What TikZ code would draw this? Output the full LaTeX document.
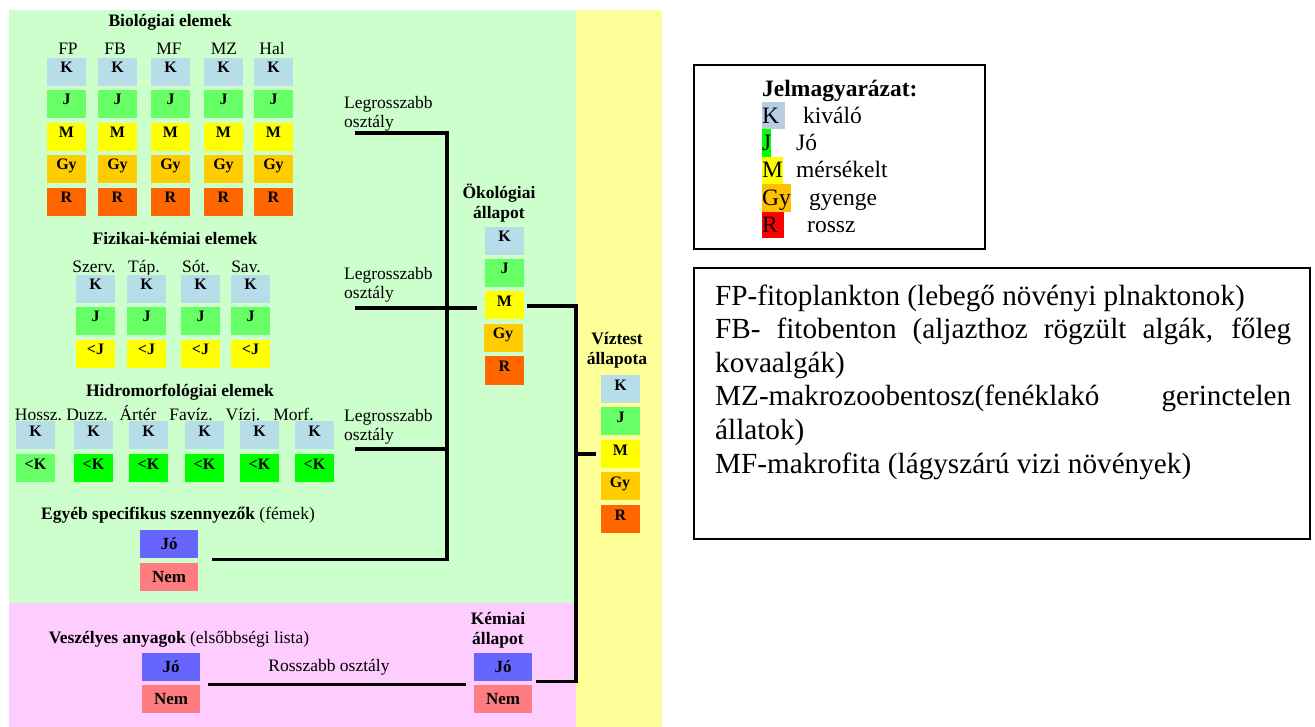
\documentclass[tikz,border=0pt]{standalone}
\usepackage{fontspec}
\setmainfont{Liberation Serif}
\usetikzlibrary{calc}
\definecolor{bgG}{HTML}{CCFFCC}
\definecolor{bgP}{HTML}{FFCCFF}
\definecolor{bgY}{HTML}{FFFF99}
\definecolor{cK}{HTML}{B7DEE8}
\definecolor{cJ}{HTML}{66FF66}
\definecolor{cJJ}{HTML}{00FF00}
\definecolor{cM}{HTML}{FFFF00}
\definecolor{cGy}{HTML}{FFCC00}
\definecolor{cR}{HTML}{FF6600}
\definecolor{cJo}{HTML}{6666FF}
\definecolor{cNem}{HTML}{FF7C80}
\definecolor{lK}{HTML}{B8CCE4}
\definecolor{lJ}{HTML}{00FF00}
\definecolor{lM}{HTML}{FFFF00}
\definecolor{lGy}{HTML}{FFC000}
\definecolor{lR}{HTML}{FF0000}
\tikzset{
 cell/.style={rectangle, inner sep=0pt, minimum width=39pt, minimum height=28pt, text height=6pt, text depth=4pt, font=\bfseries\fontsize{16}{18}\selectfont},
 yn/.style={rectangle, inner sep=0pt, minimum width=58pt, minimum height=28pt, font=\bfseries\fontsize{17}{19}\selectfont},
 lab/.style={inner sep=0pt, text height=12pt, text depth=0pt, font=\fontsize{17.5}{19.5}\selectfont},
 mlab/.style={inner sep=0pt, font=\fontsize{17.5}{19.5}\selectfont, align=left, anchor=west},
 ttl/.style={inner sep=0pt, font=\bfseries\fontsize{17.5}{20}\selectfont, align=center},
 conn/.style={line width=3.2pt},
 leg/.style={inner sep=0pt, anchor=base west, font=\fontsize{23.5}{27}\selectfont},
 abbr/.style={inner sep=0pt, anchor=base west, font=\fontsize{29.2}{33.5}\selectfont},
 frame/.style={draw, line width=1.6pt, inner sep=0pt, anchor=north west},
}
\begin{document}
\begin{tikzpicture}[x=1pt,y=-1pt]
\useasboundingbox (0,0) rectangle (1315,727);
\fill[white] (0,0) rectangle (1315,727);
\fill[bgG] (9,10) rectangle (576,603);
\fill[bgP] (9,603) rectangle (576,727);
\fill[bgY] (576,10) rectangle (662,727);

% Biological elements
\node[ttl] (bioT) at (170,22) {Biológiai elemek};
\foreach \nm/\x/\lx [count=\i] in {FP/66.5/68, FB/117.5/115, MF/170.5/169, MZ/223.5/224, Hal/273.5/272}{
 \node[lab] (bl\i) at (\lx,49) {\nm};
 \node[cell,fill=cK] (bK\i) at (\x,72) {K};
 \node[cell,fill=cJ] (bJ\i) at (\x,104) {J};
 \node[cell,fill=cM] (bM\i) at (\x,137) {M};
 \node[cell,fill=cGy] (bG\i) at (\x,169) {Gy};
 \node[cell,fill=cR] (bR\i) at (\x,202) {R};
}

% Physico-chemical
\node[ttl] (fkT) at (175,239) {Fizikai-kémiai elemek};
\foreach \nm/\x/\lx [count=\i] in {Szerv./95.5/94, Táp./146.5/144, Sót./200.5/196, Sav./250.5/246}{
 \node[lab] (fl\i) at (\lx,267) {\nm};
 \node[cell,fill=cK] (fK\i) at (\x,289) {K};
 \node[cell,fill=cJ] (fJ\i) at (\x,321) {J};
 \node[cell,fill=cM] (fM\i) at (\x,354) {<J};
}

% Hydromorphological
\node[ttl] (hmT) at (180,392) {Hidromorfológiai elemek};
\foreach \nm/\x/\lx/\c [count=\i] in {Hossz./35.5/38.5/cJ, Duzz./93.5/87/cJJ, Ártér/148.5/138/cJJ, Favíz./204.5/191/cJJ, Vízj./259.5/243/cJJ, Morf./314.5/293.5/cJJ}{
 \node[lab] (hl\i) at (\lx,414) {\nm};
 \node[cell,fill=cK] (hK\i) at (\x,435) {K};
 \node[cell,fill=\c] (hJ\i) at (\x,468) {<K};
}

% Other specific pollutants
\node[lab] (egyT) at (178,513) {\textbf{Egyéb specifikus szennyezők} (fémek)};
\node[yn,fill=cJo] (egyJo) at (169,544) {Jó};
\node[yn,fill=cNem] (egyNem) at (169,577) {Nem};

% Dangerous substances
\node[lab] (vesT) at (179,637) {\textbf{Veszélyes anyagok} (elsőbbségi lista)};
\node[yn,fill=cJo] (vesJo) at (171,667) {Jó};
\node[yn,fill=cNem] (vesNem) at (171,699) {Nem};
\node[lab] (ros) at (329,665) {Rosszabb osztály};

% Chemical status
\node[ttl] (kemT) at (498,630) {Kémiai\\állapot};
\node[yn,fill=cJo] (kemJo) at (503,667) {Jó};
\node[yn,fill=cNem] (kemNem) at (503,699) {Nem};

% Ecological status
\node[ttl] (ecoT) at (499,203) {Ökológiai\\állapot};
\node[cell,fill=cK] (eK) at (504.5,241) {K};
\node[cell,fill=cJ] (eJ) at (504.5,273) {J};
\node[cell,fill=cM] (eM) at (504.5,305.5) {M};
\node[cell,fill=cGy] (eG) at (503,338) {Gy};
\node[cell,fill=cR] (eR) at (504.5,370.5) {R};

% Water body status
\node[ttl] (vizT) at (617,350) {Víztest\\állapota};
\node[cell,fill=cK] (vK) at (620.5,389) {K};
\node[cell,fill=cJ] (vJ) at (620.5,421) {J};
\node[cell,fill=cM] (vM) at (620.5,454) {M};
\node[cell,fill=cGy] (vG) at (620,486) {Gy};
\node[cell,fill=cR] (vR) at (620.5,519) {R};

% "Legrosszabb osztaly" labels
\node[mlab] (lg1) at (344,114) {Legrosszabb\\osztály};
\node[mlab] (lg2) at (344,285) {Legrosszabb\\osztály};
\node[mlab] (lg3) at (344,427) {Legrosszabb\\osztály};

% connector coordinates
\coordinate (l1s) at (355,133);
\coordinate (l1c) at (447,133);
\coordinate (l2s) at (355,308);
\coordinate (l3s) at (355,449);
\coordinate (l3c) at (447,449);
\coordinate (egyE) at ($(egyJo.south east)+(14,1)$);
\coordinate (ecoIn) at ($(eM.west)+(-8,2.5)$);
\coordinate (ecoOut) at ($(eM.east)+(3,0.5)$);
\coordinate (rc) at (576,306);
\coordinate (rs) at (576,454);
\coordinate (vizIn) at ($(vM.west)+(-5,0)$);
\coordinate (kemOut) at ($(kemJo.south east)+(4,0)$);
\coordinate (vesE) at ($(vesJo.south east)+(8,3)$);
\coordinate (kemIn) at ($(kemJo.south west)+(-8,3)$);

\draw[conn] (l1s) -- (l1c) |- (egyE);
\draw[conn] (l2s) -- (ecoIn);
\draw[conn] (l3s) -- (l3c);
\draw[conn] (ecoOut) -- (rc) |- (kemOut);
\draw[conn] (rs) -- (vizIn);
\draw[conn] (vesE) -- (kemIn);

% Legend
\node[frame, minimum width=291pt, minimum height=184pt] (legBox) at (693,64) {};
\fill[lK] (762,102) rectangle (785,129);
\fill[lJ] (762,129) rectangle (771,157);
\fill[lM] (762,157) rectangle (783,184);
\fill[lGy] (762,184) rectangle (791,212);
\fill[lR] (762,212) rectangle (784,238);
\node[leg] (lgT) at (762,97) {\textbf{Jelmagyarázat:}};
\node[leg] (lgK) at (762,124) {K};
\node[leg] (lgKt) at (803,124) {kiváló};
\node[leg] (lgJ) at (762,151) {J};
\node[leg] (lgJt) at (796,151) {Jó};
\node[leg] (lgM) at (762,178) {M};
\node[leg] (lgMt) at (796,178) {mérsékelt};
\node[leg] (lgG) at (762,206) {Gy};
\node[leg] (lgGt) at (809,206) {gyenge};
\node[leg] (lgR) at (762,233) {R};
\node[leg] (lgRt) at (807,233) {rossz};

% Abbreviations
\node[frame, minimum width=616pt, minimum height=271pt] (abBox) at (693,267) {};
\node[abbr] (a1) at (715,305.5) {FP-fitoplankton (lebegő növényi plnaktonok)};
\node[abbr] (a2) at (715,339) {\makebox[576pt][s]{FB- fitobenton (aljazthoz rögzült algák, főleg}};
\node[abbr] (a3) at (715,372.5) {kovaalgák)};
\node[abbr] (a4) at (715,406) {\makebox[576pt][s]{MZ-makrozoobentosz(fenéklakó gerinctelen}};
\node[abbr] (a5) at (715,439.5) {állatok)};
\node[abbr] (a6) at (715,473) {MF-makrofita (lágyszárú vizi növények)};
\end{tikzpicture}
\end{document}
